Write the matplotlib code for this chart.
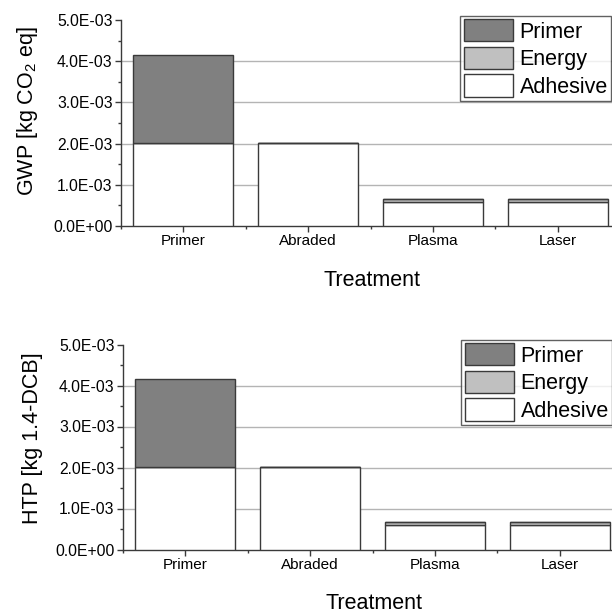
import numpy as np
import matplotlib
matplotlib.use("Agg")
import matplotlib.pyplot as plt
from matplotlib.patches import Patch
from matplotlib.ticker import MultipleLocator, FuncFormatter

plt.rcParams["font.family"] = ["Liberation Sans", "DejaVu Sans"]
plt.rcParams["mathtext.fontset"] = "custom"
plt.rcParams["mathtext.rm"] = "Liberation Sans"

# ---------------------------------------------------------------------------
# Data
# ---------------------------------------------------------------------------
treatments = ["Primer", "Abraded", "Plasma", "Laser"]

gwp_adhesive = [2.02e-3, 2.02e-3, 0.59e-3, 0.59e-3]
gwp_energy = [0.0, 0.0, 0.06e-3, 0.06e-3]
gwp_primer = [2.13e-3, 0.0, 0.0, 0.0]

htp_adhesive = [2.02e-3, 2.02e-3, 0.60e-3, 0.60e-3]
htp_energy = [0.0, 0.0, 0.06e-3, 0.06e-3]
htp_primer = [2.13e-3, 0.0, 0.0, 0.0]

ylabels = [r"GWP [kg CO$_\mathrm{2}$ eq]", "HTP [kg 1.4-DCB]"]

C_PRIMER = "#808080"
C_ENERGY = "#c0c0c0"
C_ADH = "#ffffff"
EDGE = "#3a3a3a"


def sci(v, pos):
    return "%.1E" % v


fig = plt.figure(figsize=(6.12, 6.12), dpi=100)

# axes rectangles in figure fraction (right edge runs slightly past the canvas)
rects = [
    [121 / 612, 1 - 226 / 612, 499 / 612, 206 / 612],
    [123 / 612, 1 - 549.5 / 612, 499 / 612, 205 / 612],
]
label_y = [0.558, 0.545]
label_x = [-0.162, -0.160]
xlabel_y = [-0.215, -0.21]
legend_anchor = [(611 / 612, 1 - 16 / 612), (612 / 612, 1 - 340 / 612)]

panels = [
    (gwp_adhesive, gwp_energy, gwp_primer),
    (htp_adhesive, htp_energy, htp_primer),
]

x = np.arange(len(treatments))

for i, (adh, en, pr) in enumerate(panels):
    ax = fig.add_axes(rects[i])
    adh = np.array(adh)
    en = np.array(en)
    pr = np.array(pr)

    kw = dict(width=0.8, edgecolor=EDGE, linewidth=1.0, zorder=3)
    ax.bar(x, adh, color=C_ADH, **kw)
    ax.bar(x, en, bottom=adh, color=C_ENERGY, **kw)
    ax.bar(x, pr, bottom=adh + en, color=C_PRIMER, **kw)

    ax.set_xlim(-0.5, len(treatments) - 0.5)
    ax.set_ylim(0, 5.0e-3)
    ax.set_xticks(x)
    ax.set_xticklabels(treatments, fontsize=11)
    ax.xaxis.set_minor_locator(MultipleLocator(1.0, offset=0.5))
    ax.yaxis.set_major_locator(MultipleLocator(1.0e-3))
    ax.yaxis.set_minor_locator(MultipleLocator(0.5e-3))
    ax.yaxis.set_major_formatter(FuncFormatter(sci))
    ax.tick_params(axis="y", labelsize=11.3)
    ax.tick_params(which="major", direction="out", length=4, width=1.0,
                   color=EDGE, pad=2)
    ax.tick_params(which="minor", direction="out", length=2.5, width=1.0,
                   color=EDGE)

    for yv in [1e-3, 2e-3, 3e-3, 4e-3]:
        ax.axhline(yv, color="#b4b4b4", lw=1.0, zorder=1)

    ax.spines["top"].set_visible(False)
    ax.spines["right"].set_visible(False)
    for s in ["left", "bottom"]:
        ax.spines[s].set_color(EDGE)
        ax.spines[s].set_linewidth(1.0)

    ax.set_ylabel(ylabels[i], fontsize=15.5)
    ax.yaxis.set_label_coords(label_x[i], label_y[i])
    ax.set_xlabel("Treatment", fontsize=15.5)
    ax.xaxis.set_label_coords(0.503, xlabel_y[i])

    handles = [
        Patch(facecolor=C_PRIMER, edgecolor=EDGE, lw=1.0, label="Primer"),
        Patch(facecolor=C_ENERGY, edgecolor=EDGE, lw=1.0, label="Energy"),
        Patch(facecolor=C_ADH, edgecolor=EDGE, lw=1.0, label="Adhesive"),
    ]
    leg = fig.legend(handles=handles, loc="upper right",
                     bbox_to_anchor=legend_anchor[i], fontsize=15.5,
                     frameon=True, fancybox=False, borderpad=0.15,
                     labelspacing=0.2, handlelength=2.3, handleheight=1.2,
                     handletextpad=0.3, borderaxespad=0.0)
    leg.get_frame().set_edgecolor(EDGE)
    leg.get_frame().set_linewidth(1.0)

fig.savefig("out.png", dpi=100)
